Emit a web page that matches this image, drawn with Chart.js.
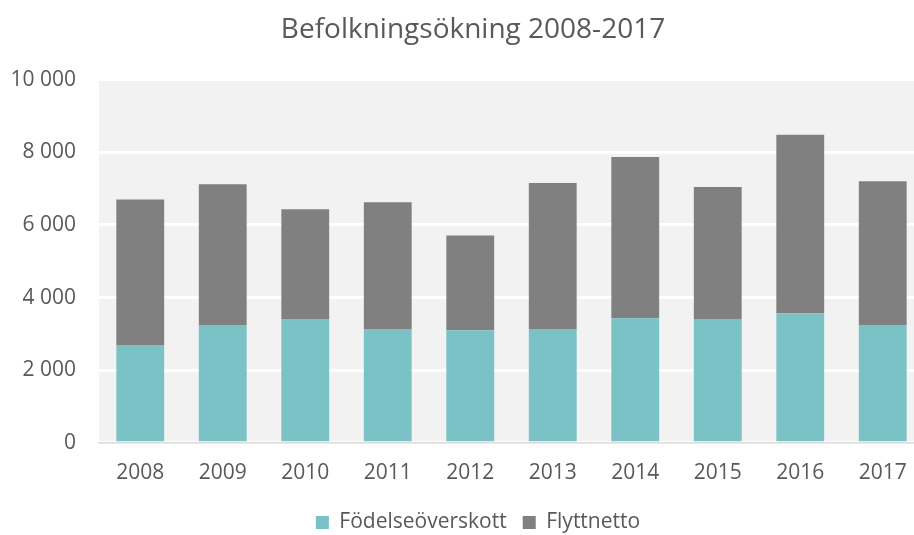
<!DOCTYPE html>
<html>
<head>
<meta charset="utf-8">
<script src="https://cdn.jsdelivr.net/npm/chart.js@4"></script>
<style>
  html, body { margin: 0; padding: 0; background: #fff; overflow: hidden; }
  #wrap { width: 930px; height: 543px; }
</style>
</head>
<body>
<div id="wrap"><canvas id="chart"></canvas></div>
<script>
// År och komponenter av befolkningsökningen
const years = ['2008', '2009', '2010', '2011', '2012', '2013', '2014', '2015', '2016', '2017'];
const fodelseoverskott = [2690, 3240, 3410, 3130, 3100, 3130, 3430, 3410, 3570, 3240];
const flyttnetto = [4010, 3880, 3020, 3490, 2610, 4020, 4440, 3630, 4910, 3960];
const yTicks = [0, 2000, 4000, 6000, 8000, 10000];

const TEXT = '#595959';
const FONT = "'Open Sans', sans-serif";

// grå bakgrund bakom ritytan
const plotBg = {
    id: 'plotBg',
    beforeDraw(chart) {
        const { ctx, chartArea: a } = chart;
        ctx.save();
        ctx.fillStyle = '#f2f2f2';
        ctx.fillRect(a.left, a.top, a.right - a.left, a.bottom - a.top);
        ctx.restore();
    }
};

// titel och förklaring sitter lite till höger, som i Excel
const nudge = {
    id: 'nudge',
    afterLayout(chart) {
        if (chart.titleBlock) { chart.titleBlock.left += 11; chart.titleBlock.right += 11; }
        if (chart.legend) { chart.legend.left += 16; chart.legend.right += 16; }
    }
};

const fmt = v => String(v).replace(/\B(?=(\d{3})+(?!\d))/g, ' ');

new Chart(document.getElementById('chart'), {
    type: 'bar',
    data: {
        labels: years,
        datasets: [
            { label: 'Födelseöverskott', data: fodelseoverskott, backgroundColor: '#7ac2c5' },
            { label: 'Flyttnetto', data: flyttnetto, backgroundColor: '#808080' }
        ]
    },
    options: {
        responsive: true,
        maintainAspectRatio: false,
        animation: false,
        layout: { padding: { top: 13, right: 6, left: 0, bottom: 0 } },
        datasets: { bar: { barPercentage: 0.58, categoryPercentage: 1 } },
        plugins: {
            title: {
                display: true,
                text: 'Befolkningsökning 2008-2017',
                color: TEXT,
                font: { family: FONT, size: 28, weight: 'normal' },
                padding: { top: 0, bottom: 33 }
            },
            legend: {
                position: 'bottom',
                labels: {
                    color: TEXT,
                    font: { family: FONT, size: 21 },
                    boxWidth: 13,
                    boxHeight: 13,
                    padding: 16
                }
            },
            tooltip: { enabled: false }
        },
        scales: {
            x: {
                stacked: true,
                grid: { display: false },
                border: { color: '#d9d9d9', width: 1.5 },
                ticks: { color: TEXT, font: { family: FONT, size: 21 }, padding: 10 }
            },
            y: {
                stacked: true,
                min: 0,
                max: 10000,
                afterBuildTicks: s => { s.ticks = yTicks.map(v => ({ value: v })); },
                afterFit: s => { s.width = 99; },
                grid: { color: '#ffffff', lineWidth: 3, drawTicks: false },
                border: { display: false },
                ticks: {
                    color: TEXT,
                    font: { family: FONT, size: 21 },
                    padding: 23,
                    callback: v => fmt(v)
                }
            }
        }
    },
    plugins: [plotBg, nudge]
});
</script>
</body>
</html>
